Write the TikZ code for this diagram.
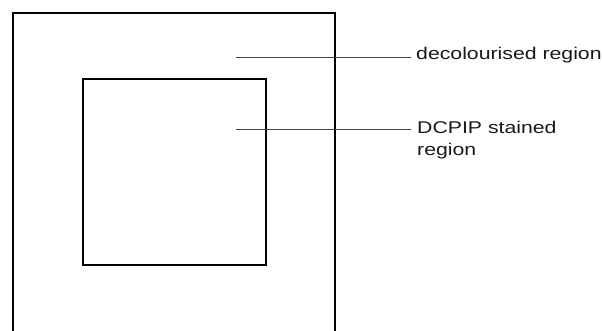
\documentclass[tikz,border=0pt]{standalone}
\usepackage{fontspec}
\newfontfamily\labelfont[FakeStretch=1.25]{Liberation Sans}
\begin{document}
\begin{tikzpicture}[x=1pt,y=-1pt,
  boxline/.style={draw=black,line width=1.4pt,line join=miter},
  leader/.style={line width=0.6pt,black!75},
  lbl/.style={inner sep=0pt,anchor=base west,align=left,
    font=\labelfont\fontsize{17}{22}\selectfont,text=black!90}]
\useasboundingbox (0,0) rectangle (602,331);
% outer container, open at the bottom
\coordinate (obl) at (13,331);
\coordinate (otl) at (13,13);
\coordinate (otr) at (335,13);
\coordinate (obr) at (335,331);
\draw[boxline] (obl) -- (otl) -- (otr) -- (obr);
% inner stained square
\node[boxline,rectangle,minimum width=183pt,minimum height=186pt,inner sep=0pt,
  outer sep=0pt,anchor=north west] (inner) at (83,79) {};
% labels and their leader lines (two-line label: base is its last line)
\node[lbl] (decol) at (416,60) {decolourised region};
\node[lbl] (stain) at (417,156) {DCPIP stained\\region};
\coordinate (p1) at (236,57);
\coordinate (p2) at (236,129);
\draw[leader] (p1) -- ([xshift=-5pt]decol.west |- p1);
\draw[leader] (p2) -- ([xshift=-6pt]stain.west |- p2);
\end{tikzpicture}
\end{document}
